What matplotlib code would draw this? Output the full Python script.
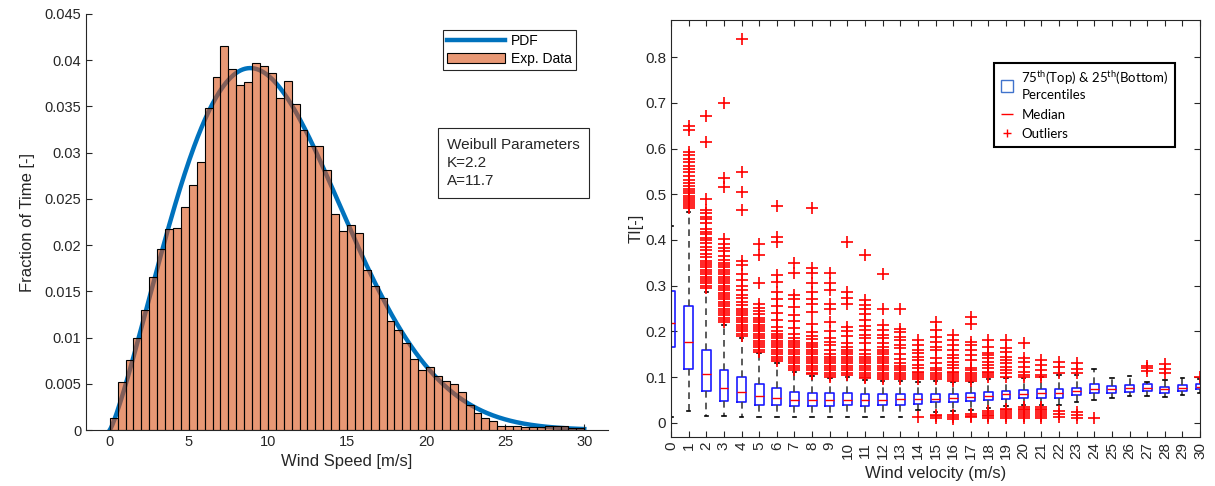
import numpy as np
import matplotlib
matplotlib.use("Agg")
import matplotlib.pyplot as plt
from matplotlib.lines import Line2D
from matplotlib.patches import Patch

plt.rcParams['font.family'] = ['Liberation Sans', 'DejaVu Sans']

# ---- left panel: wind speed histogram (fraction of time per 0.5 m/s bin)
bin_width = 0.5
bin_left = [i * 0.5 for i in range(60)]
frac_time = [0.0013, 0.00515, 0.0076, 0.0100, 0.0130, 0.0166, 0.0196, 0.0217, 0.0218, 0.0241,
             0.0265, 0.0290, 0.0348, 0.0382, 0.0415, 0.0390, 0.0373, 0.0376, 0.0397, 0.0394,
             0.0386, 0.0359, 0.0377, 0.0353, 0.0325, 0.0307, 0.0307, 0.0281, 0.0234, 0.0215,
             0.0222, 0.0213, 0.0173, 0.0156, 0.0143, 0.0118, 0.0108, 0.0094, 0.0077, 0.0065,
             0.0068, 0.0058, 0.0053, 0.0050, 0.0041, 0.0027, 0.0018, 0.0013, 0.0010, 0.0004,
             0.0004, 0.0004, 0.0003, 0.0003, 0.0003, 0.0004, 0.0004, 0.0004, 0.0002, 0.0002]
weib_k = 2.2
weib_a = 11.7

# ---- right panel: turbulence intensity box stats per wind velocity bin
velocity = list(range(31))
q1 = [0.166, 0.117, 0.070, 0.047, 0.045, 0.040, 0.040, 0.037, 0.036, 0.036, 0.038,
      0.036, 0.039, 0.039, 0.041, 0.045, 0.046, 0.048, 0.051, 0.053, 0.055, 0.055,
      0.055, 0.061, 0.066, 0.066, 0.068, 0.070, 0.066, 0.070, 0.073]
med = [0.218, 0.177, 0.107, 0.077, 0.068, 0.058, 0.055, 0.051, 0.050, 0.050, 0.051,
       0.050, 0.051, 0.052, 0.053, 0.053, 0.055, 0.057, 0.059, 0.062, 0.064, 0.066,
       0.066, 0.070, 0.075, 0.075, 0.077, 0.077, 0.073, 0.077, 0.079]
q3 = [0.289, 0.255, 0.159, 0.115, 0.100, 0.086, 0.077, 0.068, 0.066, 0.065, 0.066,
      0.063, 0.064, 0.064, 0.064, 0.064, 0.064, 0.066, 0.068, 0.070, 0.072, 0.073,
      0.075, 0.077, 0.086, 0.080, 0.082, 0.085, 0.079, 0.082, 0.084]
whis_lo = [0.013, 0.026, 0.015, 0.015, 0.013, 0.013, 0.013, 0.013, 0.013, 0.013, 0.013,
           0.013, 0.013, 0.013, 0.028, 0.024, 0.025, 0.028, 0.032, 0.036, 0.038, 0.040,
           0.040, 0.045, 0.050, 0.055, 0.059, 0.058, 0.057, 0.061, 0.065]
whis_hi = [0.430, 0.462, 0.287, 0.215, 0.185, 0.152, 0.130, 0.112, 0.103, 0.098, 0.100,
           0.093, 0.091, 0.091, 0.090, 0.092, 0.090, 0.090, 0.095, 0.097, 0.098, 0.100,
           0.105, 0.105, 0.117, 0.097, 0.102, 0.090, 0.093, 0.097, 0.095]
outliers = {
    1: [0.65, 0.64, 0.593, 0.585, 0.578, 0.57, 0.562, 0.555, 0.548, 0.54, 0.532, 0.525, 0.518,
        0.512, 0.507, 0.502, 0.497, 0.492, 0.487, 0.483, 0.479, 0.475, 0.47],
    2: [0.67, 0.615, 0.49, 0.465, 0.458, 0.45, 0.445, 0.438, 0.425, 0.418, 0.412, 0.405, 0.40,
        0.393, 0.385, 0.378, 0.37, 0.362, 0.355, 0.35, 0.345, 0.34, 0.335, 0.33, 0.325, 0.32,
        0.315, 0.31, 0.305, 0.30, 0.295],
    3: [0.70, 0.535, 0.515, 0.402, 0.392, 0.383, 0.375, 0.365, 0.357, 0.35, 0.345, 0.34, 0.335,
        0.33, 0.325, 0.32, 0.315, 0.31, 0.305, 0.30, 0.295, 0.29, 0.285, 0.28, 0.275, 0.27,
        0.265, 0.26, 0.255, 0.25, 0.245, 0.24, 0.235, 0.23, 0.225, 0.22],
    4: [0.84, 0.548, 0.505, 0.465, 0.355, 0.345, 0.325, 0.312, 0.30, 0.29, 0.28, 0.272, 0.265,
        0.258, 0.25, 0.245, 0.24, 0.235, 0.23, 0.225, 0.22, 0.215, 0.21, 0.205, 0.2, 0.195, 0.19],
    5: [0.392, 0.367, 0.306, 0.26, 0.252, 0.245, 0.238, 0.23, 0.225, 0.22, 0.215, 0.21, 0.205,
        0.2, 0.195, 0.19, 0.185, 0.18, 0.175, 0.17, 0.165, 0.16, 0.156],
    6: [0.475, 0.407, 0.396, 0.323, 0.309, 0.287, 0.27, 0.255, 0.24, 0.225, 0.21, 0.2, 0.195,
        0.19, 0.185, 0.18, 0.175, 0.17, 0.165, 0.16, 0.155, 0.15, 0.145, 0.14, 0.135],
    7: [0.349, 0.327, 0.279, 0.27, 0.254, 0.235, 0.222, 0.208, 0.195, 0.185, 0.18, 0.175, 0.17,
        0.165, 0.16, 0.155, 0.15, 0.145, 0.14, 0.135, 0.13, 0.125, 0.12, 0.115],
    8: [0.47, 0.338, 0.327, 0.305, 0.287, 0.27, 0.26, 0.243, 0.217, 0.199, 0.19, 0.183, 0.175,
        0.17, 0.165, 0.16, 0.155, 0.15, 0.145, 0.14, 0.135, 0.13, 0.125, 0.12, 0.115, 0.11, 0.106],
    9: [0.327, 0.305, 0.29, 0.261, 0.25, 0.221, 0.2, 0.185, 0.177, 0.17, 0.16, 0.15, 0.145,
        0.14, 0.135, 0.13, 0.125, 0.12, 0.115, 0.11, 0.105, 0.1],
    10: [0.395, 0.287, 0.272, 0.261, 0.21, 0.2, 0.19, 0.175, 0.166, 0.159, 0.155, 0.15, 0.145,
         0.14, 0.135, 0.13, 0.125, 0.12, 0.115, 0.11, 0.104],
    11: [0.367, 0.268, 0.257, 0.25, 0.239, 0.225, 0.212, 0.203, 0.192, 0.185, 0.174, 0.16, 0.15,
         0.144, 0.14, 0.135, 0.13, 0.125, 0.12, 0.115, 0.11, 0.105, 0.1, 0.097],
    12: [0.325, 0.25, 0.214, 0.203, 0.192, 0.185, 0.174, 0.166, 0.159, 0.155, 0.15, 0.145, 0.14,
         0.135, 0.13, 0.125, 0.12, 0.115, 0.11, 0.105, 0.1, 0.095],
    13: [0.25, 0.206, 0.199, 0.188, 0.181, 0.17, 0.163, 0.15, 0.14, 0.13, 0.125, 0.12, 0.115,
         0.11, 0.105, 0.1, 0.095],
    14: [0.181, 0.17, 0.159, 0.152, 0.145, 0.137, 0.126, 0.119, 0.112, 0.108, 0.104, 0.1, 0.096,
         0.013],
    15: [0.221, 0.203, 0.188, 0.177, 0.166, 0.159, 0.141, 0.13, 0.119, 0.115, 0.11, 0.105, 0.1,
         0.096, 0.017, 0.014, 0.011],
    16: [0.192, 0.181, 0.17, 0.159, 0.148, 0.141, 0.134, 0.126, 0.119, 0.112, 0.108, 0.104, 0.1,
         0.096, 0.092, 0.017, 0.013, 0.009],
    17: [0.232, 0.217, 0.177, 0.17, 0.159, 0.148, 0.137, 0.119, 0.115, 0.11, 0.105, 0.1, 0.096,
         0.092, 0.02, 0.016, 0.013],
    18: [0.181, 0.166, 0.152, 0.148, 0.141, 0.134, 0.126, 0.119, 0.112, 0.108, 0.104, 0.1,
         0.026, 0.022, 0.018, 0.014, 0.01],
    19: [0.181, 0.163, 0.155, 0.145, 0.137, 0.13, 0.123, 0.115, 0.108, 0.1,
         0.031, 0.027, 0.023, 0.019, 0.015, 0.011],
    20: [0.174, 0.141, 0.134, 0.123, 0.112, 0.105, 0.101,
         0.035, 0.031, 0.027, 0.023, 0.019, 0.015, 0.011],
    21: [0.137, 0.126, 0.115, 0.104, 0.101, 0.035, 0.031, 0.027, 0.023, 0.019, 0.015, 0.011],
    22: [0.133, 0.122, 0.108, 0.026, 0.019, 0.012],
    23: [0.13, 0.118, 0.108, 0.024, 0.017, 0.01],
    24: [0.01],
    27: [0.125, 0.12, 0.113],
    28: [0.128, 0.118, 0.11],
    30: [0.10],
}

fig = plt.figure(figsize=(12.15, 4.86), dpi=100)
txt_col = (0.15, 0.15, 0.15)

# ================= left: histogram + Weibull PDF =================
ax1 = fig.add_axes([0.0708, 0.1152, 0.4296, 0.856])
xs = np.linspace(0, 30, 400)
pdf = (weib_k / weib_a) * (xs / weib_a) ** (weib_k - 1) * np.exp(-(xs / weib_a) ** weib_k) * bin_width
ax1.plot(xs, pdf, color=(0, 0.447, 0.741), lw=3.2, label='PDF', zorder=1)
ax1.bar(bin_left, frac_time, width=bin_width, align='edge',
        facecolor=(0.85, 0.325, 0.098, 0.6), edgecolor='black', linewidth=0.8, zorder=2)

ax1.set_xlim(-1.5, 31.5)
ax1.set_ylim(0, 0.045)
ax1.set_xticks(range(0, 31, 5))
yt = [i * 0.005 for i in range(10)]
ax1.set_yticks(yt)
ax1.set_yticklabels([f"{v:g}" for v in yt])
for s in ['top', 'right']:
    ax1.spines[s].set_visible(False)
for s in ['left', 'bottom']:
    ax1.spines[s].set_color(txt_col)
ax1.tick_params(direction='in', colors=txt_col, labelsize=10.5, length=4)
ax1.set_xlabel('Wind Speed [m/s]', fontsize=12, color=txt_col)
ax1.set_ylabel('Fraction of Time [-]', fontsize=12, color=txt_col, labelpad=7)

h1 = [Line2D([0], [0], color=(0, 0.447, 0.741), lw=3.2),
      Patch(facecolor=(0.85, 0.325, 0.098, 0.6), edgecolor='black', linewidth=0.8)]
leg1 = ax1.legend(h1, ['PDF', 'Exp. Data'], loc='upper right', bbox_to_anchor=(0.952, 0.978),
                  fontsize=10, fancybox=False, framealpha=1, edgecolor=txt_col,
                  handlelength=4.2, borderpad=0.3, labelspacing=0.25, handletextpad=0.4)
leg1.get_frame().set_linewidth(0.8)

ax1.text(0.692, 0.703, 'Weibull Parameters\nK=2.2\nA=11.7', transform=ax1.transAxes,
         fontsize=11, color=txt_col, va='top', ha='left', linespacing=1.4,
         bbox=dict(boxstyle='square,pad=0.6', facecolor='white', edgecolor=txt_col, linewidth=0.8))

# ================= right: TI box plots =================
ax2 = fig.add_axes([0.5523, 0.1008, 0.4354, 0.858])
stats = []
for i, v in enumerate(velocity):
    stats.append(dict(med=med[i], q1=q1[i], q3=q3[i], whislo=whis_lo[i], whishi=whis_hi[i],
                      fliers=outliers.get(v, []), label=str(v)))
ax2.bxp(stats, positions=velocity, widths=0.5, capwidths=0.2,
        boxprops=dict(color=(0.1, 0.1, 1), linewidth=1.2),
        medianprops=dict(color=(1, 0, 0), linewidth=1.0),
        whiskerprops=dict(color=(0.25, 0.25, 0.25), linestyle=(0, (4, 3)), linewidth=1.2),
        capprops=dict(color='black', linewidth=1.2),
        flierprops=dict(marker='+', markeredgecolor=(1, 0, 0), markersize=8.5, markeredgewidth=1.2,
                        linestyle='none'))

ax2.set_xlim(0, 30)
ax2.set_ylim(-0.031, 0.881)
ax2.set_xticks(velocity)
ax2.set_xticklabels([str(v) for v in velocity], rotation=90)
yt2 = [i * 0.1 for i in range(9)]
ax2.set_yticks(yt2)
ax2.set_yticklabels([f"{v:.1f}" if v > 0 else "0" for v in yt2])
for s in ax2.spines.values():
    s.set_color(txt_col)
ax2.tick_params(direction='in', colors=txt_col, labelsize=11, length=4,
                top=True, right=True)
ax2.set_xlabel('Wind velocity (m/s)', fontsize=12, color=txt_col, labelpad=5)
ax2.set_ylabel('TI[-]', fontsize=12, color=txt_col, labelpad=1)

h2 = [Line2D([0], [0], marker='s', markersize=9, markerfacecolor='none',
             markeredgecolor=(0.25, 0.45, 0.8), linestyle='none'),
      Line2D([0], [0], marker='_', markersize=9, markeredgecolor=(1, 0, 0), linestyle='none'),
      Line2D([0], [0], marker='+', markersize=6, markeredgecolor=(1, 0, 0), linestyle='none')]
lab2 = ['75$^{\\mathregular{th}}$(Top) & 25$^{\\mathregular{th}}$(Bottom)\nPercentiles',
        'Median', 'Outliers']
leg2 = ax2.legend(h2, lab2, loc='upper right', bbox_to_anchor=(0.9654, 0.913),
                  prop=dict(family=['Lato', 'DejaVu Sans'], size=9.5), fancybox=False,
                  framealpha=1, edgecolor='black', handlelength=1.0, handletextpad=0.6,
                  borderpad=0.5, labelspacing=0.55)
leg2.get_frame().set_linewidth(1.5)

fig.savefig('out.png', dpi=100)
